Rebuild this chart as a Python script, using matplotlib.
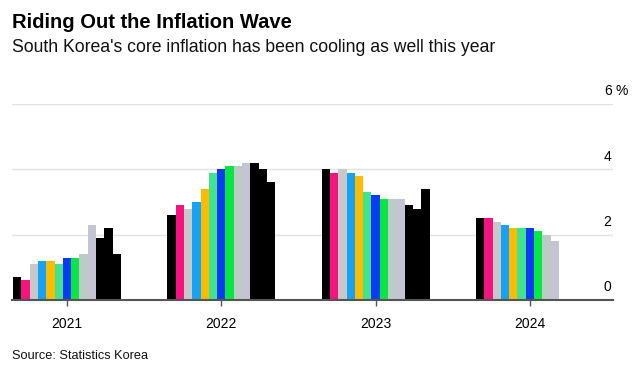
import matplotlib.pyplot as plt
import numpy as np

plt.rcParams['font.family'] = ['Liberation Sans', 'DejaVu Sans']

years = ['2021', '2022', '2023', '2024']

# one bar per slot in each year group
vals_2021 = [0.7, 0.6, 1.1, 1.2, 1.2, 1.1, 1.3, 1.3, 1.4, 2.3, 1.9, 2.2, 1.4]
vals_2022 = [2.6, 2.9, 2.8, 3.0, 3.4, 3.9, 4.0, 4.1, 4.1, 4.2, 4.2, 4.0, 3.6]
vals_2023 = [4.0, 3.9, 4.0, 3.9, 3.8, 3.3, 3.2, 3.1, 3.1, 3.1, 2.9, 2.8, 3.4]
vals_2024 = [2.5, 2.5, 2.4, 2.3, 2.2, 2.2, 2.2, 2.1, 2.0, 1.8]
all_vals = [vals_2021, vals_2022, vals_2023, vals_2024]

bar_colors = ['#000000', '#f5137f', '#c8c8c8', '#16a3f5', '#ffbb00', '#42e38f',
              '#0b3cf5', '#08e646', '#bccbc6', '#c4c4d4', '#000000', '#000000',
              '#000000']

y_ticks = [0, 2, 4, 6]

W, H = 642, 374
fig = plt.figure(figsize=(W / 100, H / 100), dpi=100)
ax = fig.add_axes([12 / W, 1 - 300 / H, (613 - 12) / W, (300 - 104) / H])

n_slots = 13
pitch = 154.3
bw = 8.3 / pitch
x = np.arange(len(years))

for yi, vals in enumerate(all_vals):
    for i, v in enumerate(vals):
        ax.bar(x[yi] + (i - (n_slots - 1) / 2) * bw, v, width=bw,
               color=bar_colors[i], linewidth=0, zorder=2)

ax.set_xlim(-(67 - 12) / pitch, (613 - 67) / pitch)
ax.set_ylim(0, 6)

for s in ['top', 'right', 'left']:
    ax.spines[s].set_visible(False)
ax.spines['bottom'].set_color('#555555')
ax.spines['bottom'].set_linewidth(1.5)
ax.spines['bottom'].set_zorder(3)

ax.set_yticks([])
for t in y_ticks[1:]:
    ax.axhline(t, color='#e3e3e3', linewidth=1, zorder=1)

for t in y_ticks:
    ax.annotate(str(t), xy=(1.0, t), xycoords=('axes fraction', 'data'),
                xytext=(-1, 4), textcoords='offset points',
                ha='right', va='bottom', fontsize=10, color='#000000')
ax.annotate('%', xy=(1.0, 6), xycoords=('axes fraction', 'data'),
            xytext=(2, 4), textcoords='offset points',
            ha='left', va='bottom', fontsize=10, color='#000000')

ax.set_xticks(x)
ax.set_xticklabels(years, fontsize=10)
ax.tick_params(axis='x', length=4, width=1, color='#555555', pad=8)

fig.text(12 / W, 1 - 22 / H, 'Riding Out the Inflation Wave',
         fontsize=14.5, fontweight='bold', va='center', ha='left')
fig.text(12 / W, 1 - 48 / H,
         "South Korea's core inflation has been cooling as well this year",
         fontsize=12.7, va='center', ha='left', color='#111111')
fig.text(12 / W, 1 - 356 / H, 'Source: Statistics Korea',
         fontsize=9.2, va='center', ha='left', color='#111111')

fig.savefig('out.png', dpi=100)
